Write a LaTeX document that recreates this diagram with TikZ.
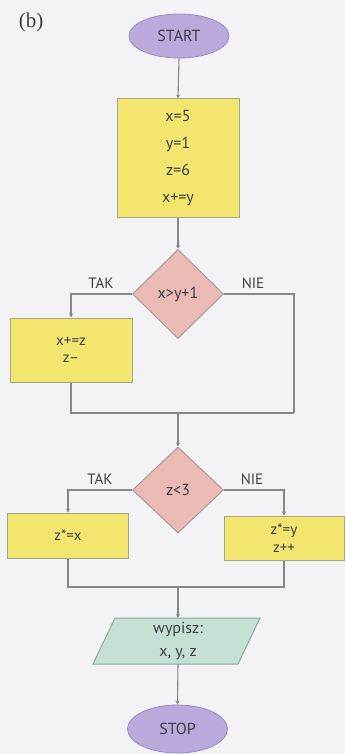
\documentclass[tikz,border=0pt]{standalone}
\usepackage{fontspec}
\setmainfont{PT Sans}
\newfontfamily\serifb{Liberation Serif}
\usetikzlibrary{shapes.geometric,arrows.meta}
\definecolor{bgc}{HTML}{F3F3F5}
\definecolor{linec}{HTML}{86868C}
\definecolor{txt}{HTML}{3E3E46}
\definecolor{ovalc}{HTML}{B9AADB}
\definecolor{ovalb}{HTML}{9A8CC0}
\definecolor{yel}{HTML}{F2E66E}
\definecolor{yelb}{HTML}{A8A68A}
\definecolor{dia}{HTML}{EBBAB4}
\definecolor{diab}{HTML}{A89A9A}
\definecolor{outc}{HTML}{C4E1D4}
\definecolor{outb}{HTML}{8FA8A0}
\tikzset{
  term/.style={ellipse, fill=ovalc, draw=ovalb, line width=0.8pt, inner sep=0pt, text=txt, font=\fontsize{16}{18}\selectfont},
  proc/.style={rectangle, fill=yel, draw=yelb, line width=1pt, inner sep=0pt, text=txt, align=center},
  dec/.style={diamond, fill=dia, draw=diab, line width=1pt, inner sep=0pt, text=txt, font=\fontsize{16}{18}\selectfont},
  conn/.style={draw=linec, line width=1.1pt},
  arr/.style={conn, -{Stealth[length=4pt,width=4pt]}},
  lbl/.style={text=txt, font=\fontsize{15}{17}\selectfont, inner sep=0pt}
}
\begin{document}
\begin{tikzpicture}[x=1pt,y=-1pt]
\fill[bgc] (0,0) rectangle (345,754);
\useasboundingbox (0,0) rectangle (345,754);

\node[text=txt, font=\serifb\fontsize{21}{22}\selectfont, inner sep=0pt] (lab) at (31,22) {(b)};

\node[term, minimum width=100pt, minimum height=44pt] (start) at (179,36) {START};
\node[proc, minimum width=122pt, minimum height=118pt, font=\fontsize{16}{27}\selectfont] (r1) at (178,158) {x=5\\y=1\\z=6\\x+=y};
\node[dec, minimum width=91pt, minimum height=89pt] (d1) at (178,294) {x>y+1};
\node[proc, minimum width=122pt, minimum height=64pt, font=\fontsize{15}{17}\selectfont] (r2) at (71,350) {x+=z\\z--};
\node[dec, minimum width=91pt, minimum height=86pt] (d2) at (178,490) {z<3};
\node[proc, minimum width=121pt, minimum height=45pt, font=\fontsize{15}{17}\selectfont] (r3) at (68,535.5) {z*=x};
\node[proc, minimum width=120pt, minimum height=44pt, font=\fontsize{15}{18}\selectfont] (r4) at (284,538) {z*=y\\z++};

\fill[outc, draw=outb, line width=1pt] (115,618) -- (260,618) -- (238,664) -- (93,664) -- cycle;
\node[minimum width=145pt, minimum height=46pt, inner sep=0pt, text=txt, align=center, font=\fontsize{16}{23}\selectfont] (out) at (178,641) {wypisz:\\x, y, z};

\node[term, minimum width=100pt, minimum height=48pt] (stop) at (177.5,729) {STOP};

\coordinate (j1) at (178,413);
\coordinate (jr1) at (294,413);
\coordinate (j2) at (178,587);

\draw[arr] (start.south) -- (r1.north);
\draw[arr] (r1.south) -- (d1.north);
\draw[arr] (d1.west) -| (r2.north);
\draw[conn] (d1.east) -| (jr1);
\draw[conn] (r2.south) |- (jr1);
\draw[arr] (j1) -- (d2.north);
\draw[arr] (d2.west) -| (r3.north);
\draw[arr] (d2.east) -| (r4.north);
\draw[conn] (r3.south) |- (j2) -| (r4.south);
\draw[arr] (j2) -- (out.north);
\draw[arr] (out.south) -- (stop.north);

\node[lbl] (t1) at (101,283) {TAK};
\node[lbl] (n1) at (253,283) {NIE};
\node[lbl] (t2) at (100,479) {TAK};
\node[lbl] (n2) at (252,479) {NIE};
\end{tikzpicture}
\end{document}
